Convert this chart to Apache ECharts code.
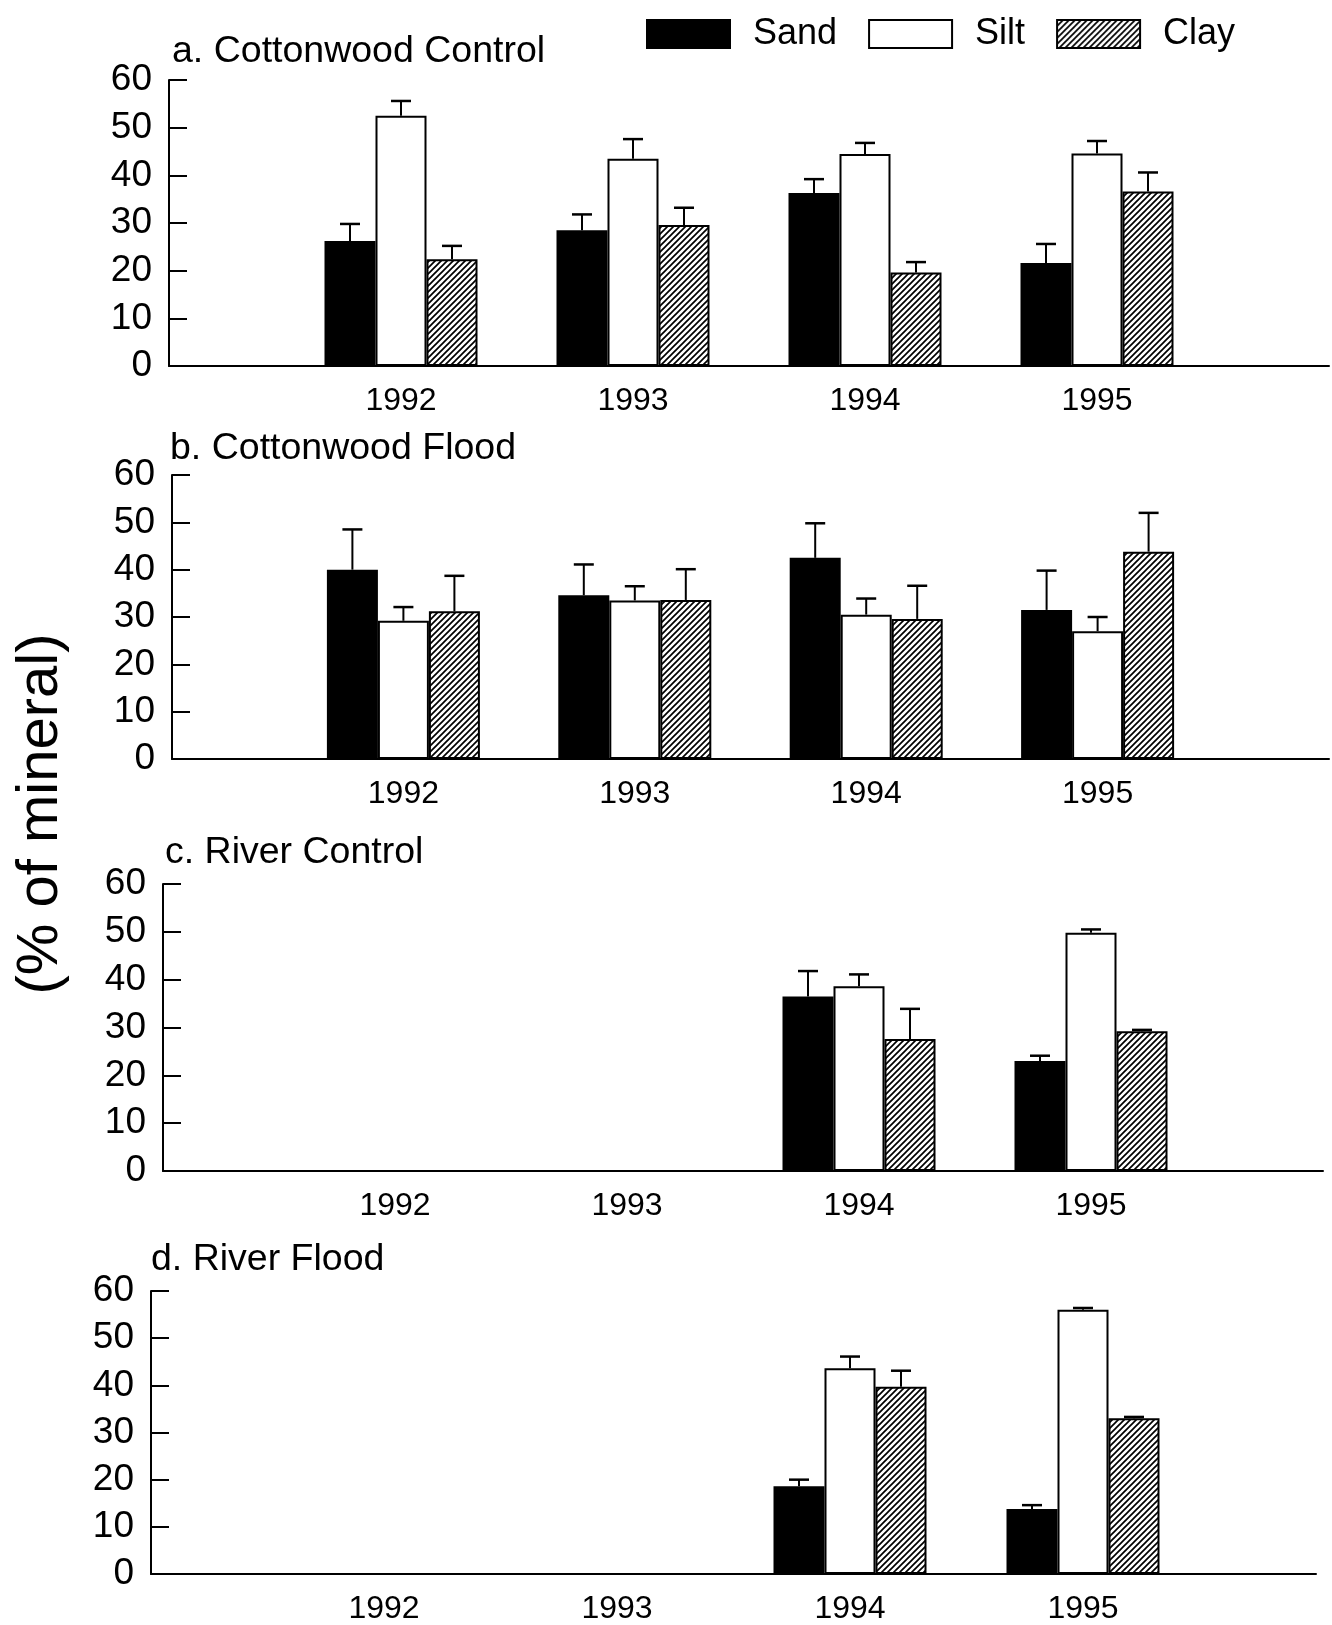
<!DOCTYPE html>
<html>
<head>
<meta charset="utf-8">
<script src="https://cdn.jsdelivr.net/npm/echarts@6/dist/echarts.min.js"></script>
<style>
  html, body { margin: 0; padding: 0; background: #fff; }
  #chart { width: 1332px; height: 1625px; }
</style>
</head>
<body>
<div id="chart"></div>
<script>
// ---------- data ----------
const years = ['1992', '1993', '1994', '1995'];
const categories = ['', '1992', '1993', '1994', '1995', ''];
const seriesNames = ['Sand', 'Silt', 'Clay'];
const panelTitles = ['a. Cottonwood Control', 'b. Cottonwood Flood', 'c. River Control', 'd. River Flood'];
const yAxisTitle = '(% of mineral)';

// a. Cottonwood Control (1992..1995)
const sandA = [26.2, 28.5, 36.3, 21.6];
const sandErrA = [3.6, 3.3, 2.9, 4.0];
const siltA = [52.5, 43.5, 44.5, 44.6];
const siltErrA = [3.1, 4.1, 2.3, 2.6];
const clayA = [22.4, 29.6, 19.6, 36.6];
const clayErrA = [2.8, 3.6, 2.2, 4.0];

// b. Cottonwood Flood
const sandB = [40.0, 34.6, 42.5, 31.5];
const sandErrB = [8.5, 6.5, 7.3, 8.3];
const siltB = [29.2, 33.5, 30.5, 27.0];
const siltErrB = [2.9, 3.0, 3.4, 3.0];
const clayB = [31.2, 33.6, 29.6, 43.8];
const clayErrB = [7.5, 6.5, 7.0, 8.2];

// c. River Control (no data 1992, 1993)
const sandC = [null, null, 36.5, 23.0];
const sandErrC = [null, null, 5.3, 1.1];
const siltC = [null, null, 38.6, 49.8];
const siltErrC = [null, null, 2.5, 0.7];
const clayC = [null, null, 27.6, 29.2];
const clayErrC = [null, null, 6.3, 0.3];

// d. River Flood (no data 1992, 1993)
const sandD = [null, null, 18.6, 13.8];
const sandErrD = [null, null, 1.4, 0.8];
const siltD = [null, null, 43.6, 56.0];
const siltErrD = [null, null, 2.5, 0.4];
const clayD = [null, null, 39.7, 33.0];
const clayErrD = [null, null, 3.4, 0.3];

const panels = [
  { values: [sandA, siltA, clayA], errors: [sandErrA, siltErrA, clayErrA] },
  { values: [sandB, siltB, clayB], errors: [sandErrB, siltErrB, clayErrB] },
  { values: [sandC, siltC, clayC], errors: [sandErrC, siltErrC, clayErrC] },
  { values: [sandD, siltD, clayD], errors: [sandErrD, siltErrD, clayErrD] }
];

// ---------- layout / style ----------
const FONT = '"Liberation Sans", Arial, Helvetica, sans-serif';
const BAR_W = 51;
const CAP_W = 20;
const grids = [
  { left: 169, top: 80, width: 1165, height: 286 },
  { left: 172, top: 475, width: 1160, height: 284 },
  { left: 163, top: 884, width: 1160, height: 287 },
  { left: 151, top: 1291, width: 1165, height: 287 }
];
const titlePos = [
  { left: 172, top: 33 },
  { left: 170, top: 430 },
  { left: 165, top: 834 },
  { left: 151, top: 1241 }
];

function makeHatch() {
  const s = 6;
  const c = document.createElement('canvas');
  c.width = s; c.height = s;
  const g = c.getContext('2d');
  g.fillStyle = '#fff';
  g.fillRect(0, 0, s, s);
  g.strokeStyle = '#000';
  g.lineWidth = 1.7;
  g.beginPath();
  g.moveTo(-1, 1); g.lineTo(1, -1);
  g.moveTo(0, s); g.lineTo(s, 0);
  g.moveTo(s - 1, s + 1); g.lineTo(s + 1, s - 1);
  g.stroke();
  return c;
}
const hatch = { image: makeHatch(), repeat: 'repeat' };

const itemStyles = [
  { color: '#000', borderColor: '#000', borderWidth: 2 },
  { color: '#fff', borderColor: '#000', borderWidth: 2 },
  { color: hatch, borderColor: '#000', borderWidth: 2 }
];

function pad(arr) { return [null].concat(arr, [null]); }

function renderErr(params, api) {
  const x = api.value(0), v = api.value(1), e = api.value(2), k = api.value(3);
  const base = api.coord([x, v]);
  const top = api.coord([x, v + e]);
  const cx = base[0] + (k - 1) * BAR_W;
  return {
    type: 'group',
    children: [
      { type: 'line', shape: { x1: cx, y1: base[1], x2: cx, y2: top[1] }, style: { stroke: '#000', lineWidth: 2 } },
      { type: 'line', shape: { x1: cx - CAP_W / 2, y1: top[1], x2: cx + CAP_W / 2, y2: top[1] }, style: { stroke: '#000', lineWidth: 2.5 } }
    ]
  };
}

const xAxes = [], yAxes = [], series = [], titles = [];
panels.forEach((p, i) => {
  xAxes.push({
    type: 'category', gridIndex: i, data: categories, boundaryGap: false,
    axisLine: { lineStyle: { color: '#000', width: 2 } },
    axisTick: { show: false },
    axisLabel: { interval: 0, color: '#000', fontSize: 32, fontFamily: FONT, margin: 19 }
  });
  yAxes.push({
    type: 'value', gridIndex: i, min: 0, max: 60, interval: 10,
    axisLine: { show: true, lineStyle: { color: '#000', width: 2 } },
    axisTick: { show: true, inside: true, length: 18, lineStyle: { color: '#000', width: 2 } },
    splitLine: { show: false },
    axisLabel: { color: '#000', fontSize: 37, fontFamily: FONT, margin: 17 }
  });
  titles.push({
    text: panelTitles[i], left: titlePos[i].left, top: titlePos[i].top, padding: 0,
    textStyle: { fontSize: 37.5, fontWeight: 'normal', color: '#000', fontFamily: FONT }
  });
  p.values.forEach((vals, k) => {
    series.push({
      type: 'bar', name: seriesNames[k], xAxisIndex: i, yAxisIndex: i,
      data: pad(vals), barWidth: BAR_W, barGap: '0%',
      itemStyle: itemStyles[k], silent: true, animation: false
    });
  });
  p.values.forEach((vals, k) => {
    const d = [];
    vals.forEach((v, j) => {
      if (v != null) d.push([j + 1, v, p.errors[k][j], k]);
    });
    series.push({
      type: 'custom', xAxisIndex: i, yAxisIndex: i, data: d,
      renderItem: renderErr, z: 10, silent: true, animation: false
    });
  });
});

const chart = echarts.init(document.getElementById('chart'), null, { renderer: 'canvas' });
chart.setOption({
  backgroundColor: '#fff',
  animation: false,
  title: titles,
  legend: {
    data: seriesNames, left: 646, top: 16, padding: 0,
    itemWidth: 83, itemHeight: 28, itemGap: 31, selectedMode: false,
    icon: 'rect',
    textStyle: { fontSize: 36, color: '#000', fontFamily: FONT, padding: [0, 0, 0, 18], lineHeight: 28 }
  },
  grid: grids,
  xAxis: xAxes,
  yAxis: yAxes,
  series: series,
  graphic: [{
    type: 'text', x: 41, y: 814, rotation: Math.PI / 2,
    style: { text: yAxisTitle, font: '58px ' + FONT, fill: '#000', textAlign: 'center', textVerticalAlign: 'middle' }
  }]
});
</script>
</body>
</html>
